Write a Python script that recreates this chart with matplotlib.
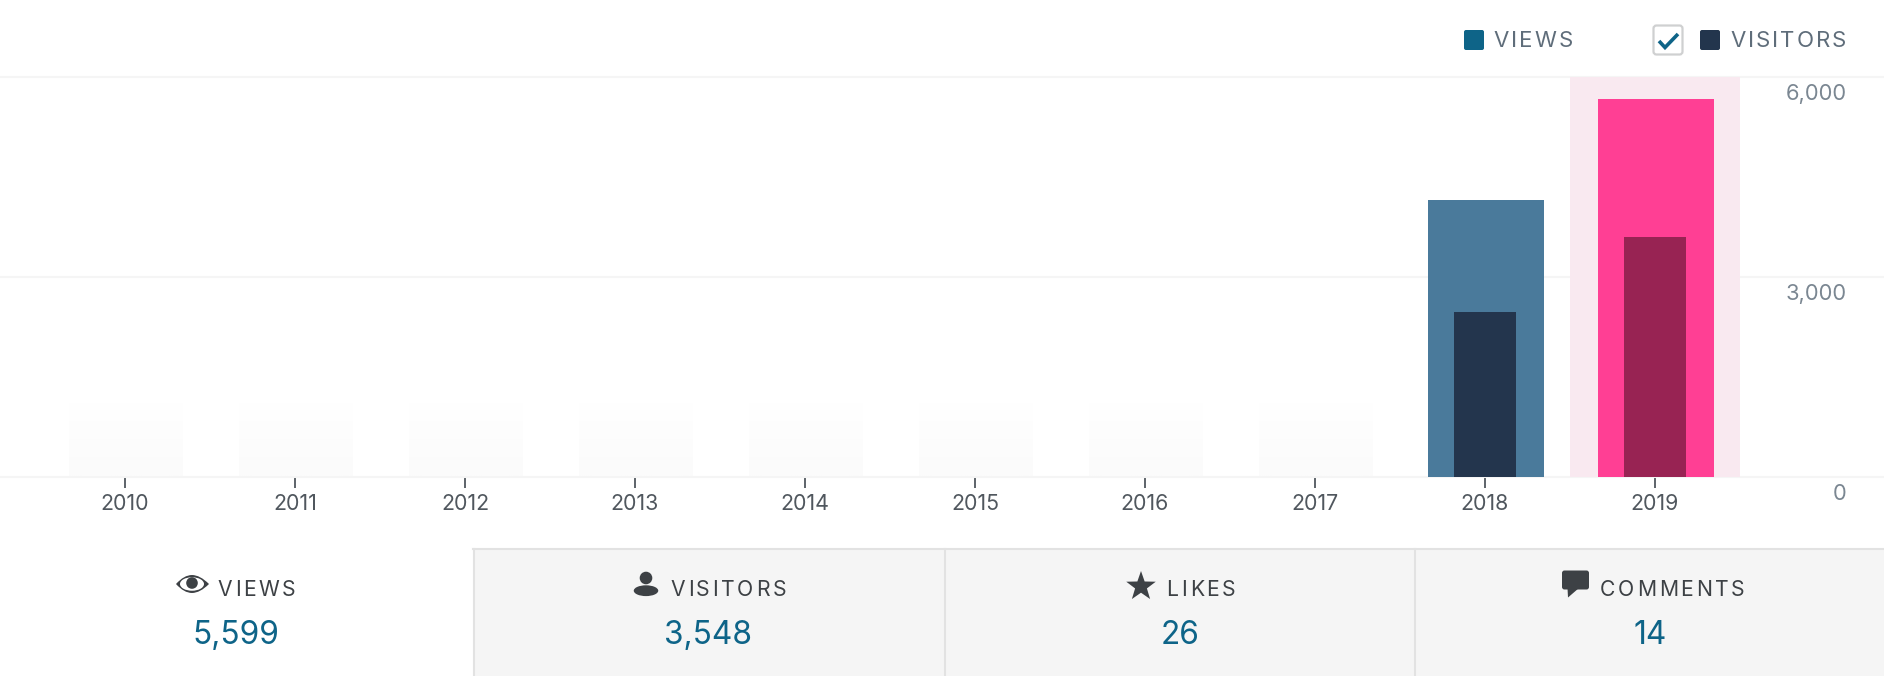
import numpy as np
import matplotlib
matplotlib.use("Agg")
import matplotlib.pyplot as plt
from matplotlib.patches import Rectangle, FancyBboxPatch, Polygon, Ellipse, Circle, PathPatch
from matplotlib.path import Path
from matplotlib.text import Text
from matplotlib.transforms import ScaledTranslation, Bbox

# ---- data ----
years = [2010, 2011, 2012, 2013, 2014, 2015, 2016, 2017, 2018, 2019]
views = [0, 0, 0, 0, 0, 0, 0, 0, 4145, 5660]
visitors = [0, 0, 0, 0, 0, 0, 0, 0, 2470, 3600]
placeholder_years = [2010, 2011, 2012, 2013, 2014, 2015, 2016, 2017]
placeholder_height = [1110] * 8
y_ticks = [0, 3000, 6000]
legend_labels = ["VIEWS", "VISITORS"]
tab_labels = ["VIEWS", "VISITORS", "LIKES", "COMMENTS"]
tab_values = ["5,599", "3,548", "26", "14"]
selected_year = 2019

# ---- style ----
W, H = 1884, 676
DPI = 100
plt.rcParams['font.family'] = ['Inter', 'DejaVu Sans']
BLUE = '#0e6488'
NAVY = '#23354d'
DARK = '#3d4145'


class TrackedText(Text):
    """A single text artist drawn with extra letter spacing (in pixels)."""

    def __init__(self, *args, tracking=0.0, **kwargs):
        super().__init__(*args, **kwargs)
        self._tracking = tracking

    def get_window_extent(self, renderer=None, dpi=None):
        bb = super().get_window_extent(renderer, dpi)
        extra = self._tracking * (len(self.get_text()) - 1)
        return Bbox([[bb.x0, bb.y0], [bb.x1 + extra, bb.y1]])

    def draw(self, renderer):
        if not self.get_visible():
            return
        x, y = self.get_transform().transform(self.get_position())
        prop = self.get_fontproperties()
        gc = renderer.new_gc()
        gc.set_foreground(self.get_color())
        gc.set_antialiased(True)
        if renderer.flipy():
            y = renderer.get_canvas_width_height()[1] - y
        s = self.get_text()
        for i, ch in enumerate(s):
            adv = renderer.get_text_width_height_descent(s[:i + 1], prop, False)[0] \
                - renderer.get_text_width_height_descent(ch, prop, False)[0]
            renderer.draw_text(gc, x + adv + i * self._tracking, y, ch, prop, 0)
        gc.restore()
        self.stale = False


fig = plt.figure(figsize=(W / DPI, H / DPI), dpi=DPI, facecolor='white')

# full-figure pixel canvas for page furniture
bg = fig.add_axes([0, 0, 1, 1], zorder=0)
bg.set_xlim(0, W)
bg.set_ylim(H, 0)
bg.axis('off')


def tracked(ax_, x, y, s, tracking, **kw):
    t = TrackedText(x, y, s, tracking=tracking, va='baseline', ha='left', **kw)
    ax_.add_artist(t)
    return t


# chart axes
top_px, base_px = 76.5, 476.5
ax = fig.add_axes([0, 1 - base_px / H, 1, (base_px - top_px) / H], zorder=1)
ax.patch.set_alpha(0)
step = 170.0
x0_px = 125.0
xlim = (2010 - x0_px / step, 2010 + (W - x0_px) / step)
ax.set_xlim(*xlim)
ax.set_ylim(0, 6000)
for s in ax.spines.values():
    s.set_visible(False)
ax.set_yticks(y_ticks)
ax.grid(axis='y', color='#f5f5f5', lw=1.5, zorder=1)
ax.set_axisbelow(True)
for g in ax.get_ygridlines():
    g.set_clip_on(False)

# the wide bars sit a fraction of a pixel right of their ticks in the original
nudge = 0.8 / step
bar_x = [y + nudge for y in years]

# placeholder bars with a fade
grad = np.linspace(0, 1, 64).reshape(-1, 1)
cmap = matplotlib.colors.LinearSegmentedColormap.from_list('fade', ['#ffffff', '#fbfbfb'])
gw = 114 / step
for yr, h in zip(placeholder_years, placeholder_height):
    ax.bar(yr + nudge, h, width=gw, color='none', zorder=2)
    ax.imshow(grad, extent=(yr + nudge - gw / 2, yr + nudge + gw / 2, 0, h), cmap=cmap,
              aspect='auto', origin='upper', zorder=2)
ax.set_xlim(*xlim)
ax.set_ylim(0, 6000)

# highlight column
ax.bar(selected_year, 6000, width=1.0, color='#f9e9f0', zorder=2)

view_colors = ['#ff3f94' if y == selected_year else '#4a7a9b' for y in years]
vis_colors = ['#982353' if y == selected_year else NAVY for y in years]
ax.bar(bar_x, views, width=116 / step, color=view_colors, zorder=3)
ax.bar(years, visitors, width=62 / step, color=vis_colors, zorder=4)

# ticks
ax.set_xticks(years)
ax.set_xticklabels([str(y) for y in years])
ax.tick_params(axis='x', length=11 * 0.72, width=1.3, color='#50575e', labelcolor='#50575e',
               labelsize=15.4, pad=4.5)
ax.tick_params(axis='y', length=0, left=False, right=False, labelleft=False, labelright=True,
               labelcolor='#7b8792', labelsize=15.8, pad=-37.5 * 0.72)
ax.set_yticklabels([f"{v:,}" for v in y_ticks])
offset = ScaledTranslation(0, -17.0 / DPI, fig.dpi_scale_trans)
for lbl in ax.get_yticklabels():
    lbl.set_ha('right')
    lbl.set_va('center')
    lbl.set_transform(lbl.get_transform() + offset)

# legend
legend_color = '#5f6d7a'
bg.add_patch(FancyBboxPatch((1465, 31), 18, 18, boxstyle='round,pad=1,rounding_size=2', fc='#0e6488', ec='none'))
tracked(bg, 1493.5, 47, legend_labels[0], 2.0, color=legend_color, fontsize=16)
bg.add_patch(FancyBboxPatch((1653.5, 25.5), 29, 29, boxstyle='round,pad=0,rounding_size=3', fc='white', ec='#cfd0d1', lw=1.6))
bg.plot([1659, 1665, 1678], [41, 47.5, 34], color=BLUE, lw=2.6, solid_capstyle='butt', solid_joinstyle='miter')
bg.add_patch(FancyBboxPatch((1701, 31), 18, 18, boxstyle='round,pad=1,rounding_size=2', fc=NAVY, ec='none'))
tracked(bg, 1730.5, 47, legend_labels[1], 2.0, color=legend_color, fontsize=16)

# stat tabs
line = '#e2e2e2'
bg.add_patch(Rectangle((473, 549), W - 473, H - 549, fc='#f5f5f5', ec='none', zorder=1))
bg.plot([473, W], [549, 549], color=line, lw=1.5, zorder=2)
for x in (474, 945, 1415):
    bg.plot([x, x], [549, H], color=line, lw=1.5, zorder=2)

tab_text_x = [217.5, 670.5, 1166.5, 1600]
tab_val_x = [236, 708, 1180, 1650]
for tx, vx, lab, val in zip(tab_text_x, tab_val_x, tab_labels, tab_values):
    tracked(bg, tx, 596.5, lab, 2.7, color=DARK, fontsize=15.2, zorder=3)
    bg.text(vx, 632.5, val, color=BLUE, fontsize=22.8, va='center_baseline', ha='center', zorder=3)

# eye icon
eye_v = [(176, 584), (184, 575), (192, 575), (200, 575), (209, 584), (200, 593), (192, 593), (184, 593), (176, 584)]
eye_c = [Path.MOVETO] + [Path.CURVE3] * 8
bg.add_patch(PathPatch(Path(eye_v, eye_c), fc=DARK, ec='none', zorder=3))
bg.add_patch(Ellipse((192, 584), 24, 13.5, fc='white', ec='none', zorder=4))
bg.add_patch(Circle((192, 583), 5.8, fc=DARK, ec='none', zorder=5))

# person icon
bg.add_patch(Circle((646, 578), 6.3, fc=DARK, ec='none', zorder=3))
bg.add_patch(Ellipse((646, 590.7), 24.5, 10.8, fc=DARK, ec='none', zorder=3))

# star icon
cx, cy, R, r = 1141, 586.5, 15.5, 6.2
ang = np.deg2rad(np.arange(10) * 36 - 90)
rad = np.where(np.arange(10) % 2 == 0, R, r)
bg.add_patch(Polygon(np.c_[cx + rad * np.cos(ang), cy + rad * np.sin(ang)], closed=True, fc=DARK, ec='none', zorder=3))

# comment icon
bg.add_patch(FancyBboxPatch((1562, 570.5), 27, 19, boxstyle='round,pad=0,rounding_size=2.5', fc=DARK, ec='none', zorder=3))
bg.add_patch(Polygon([(1567.5, 588), (1579, 588), (1568, 597.5)], closed=True, fc=DARK, ec='none', zorder=3))

fig.savefig('out.png', dpi=DPI, facecolor='white')
